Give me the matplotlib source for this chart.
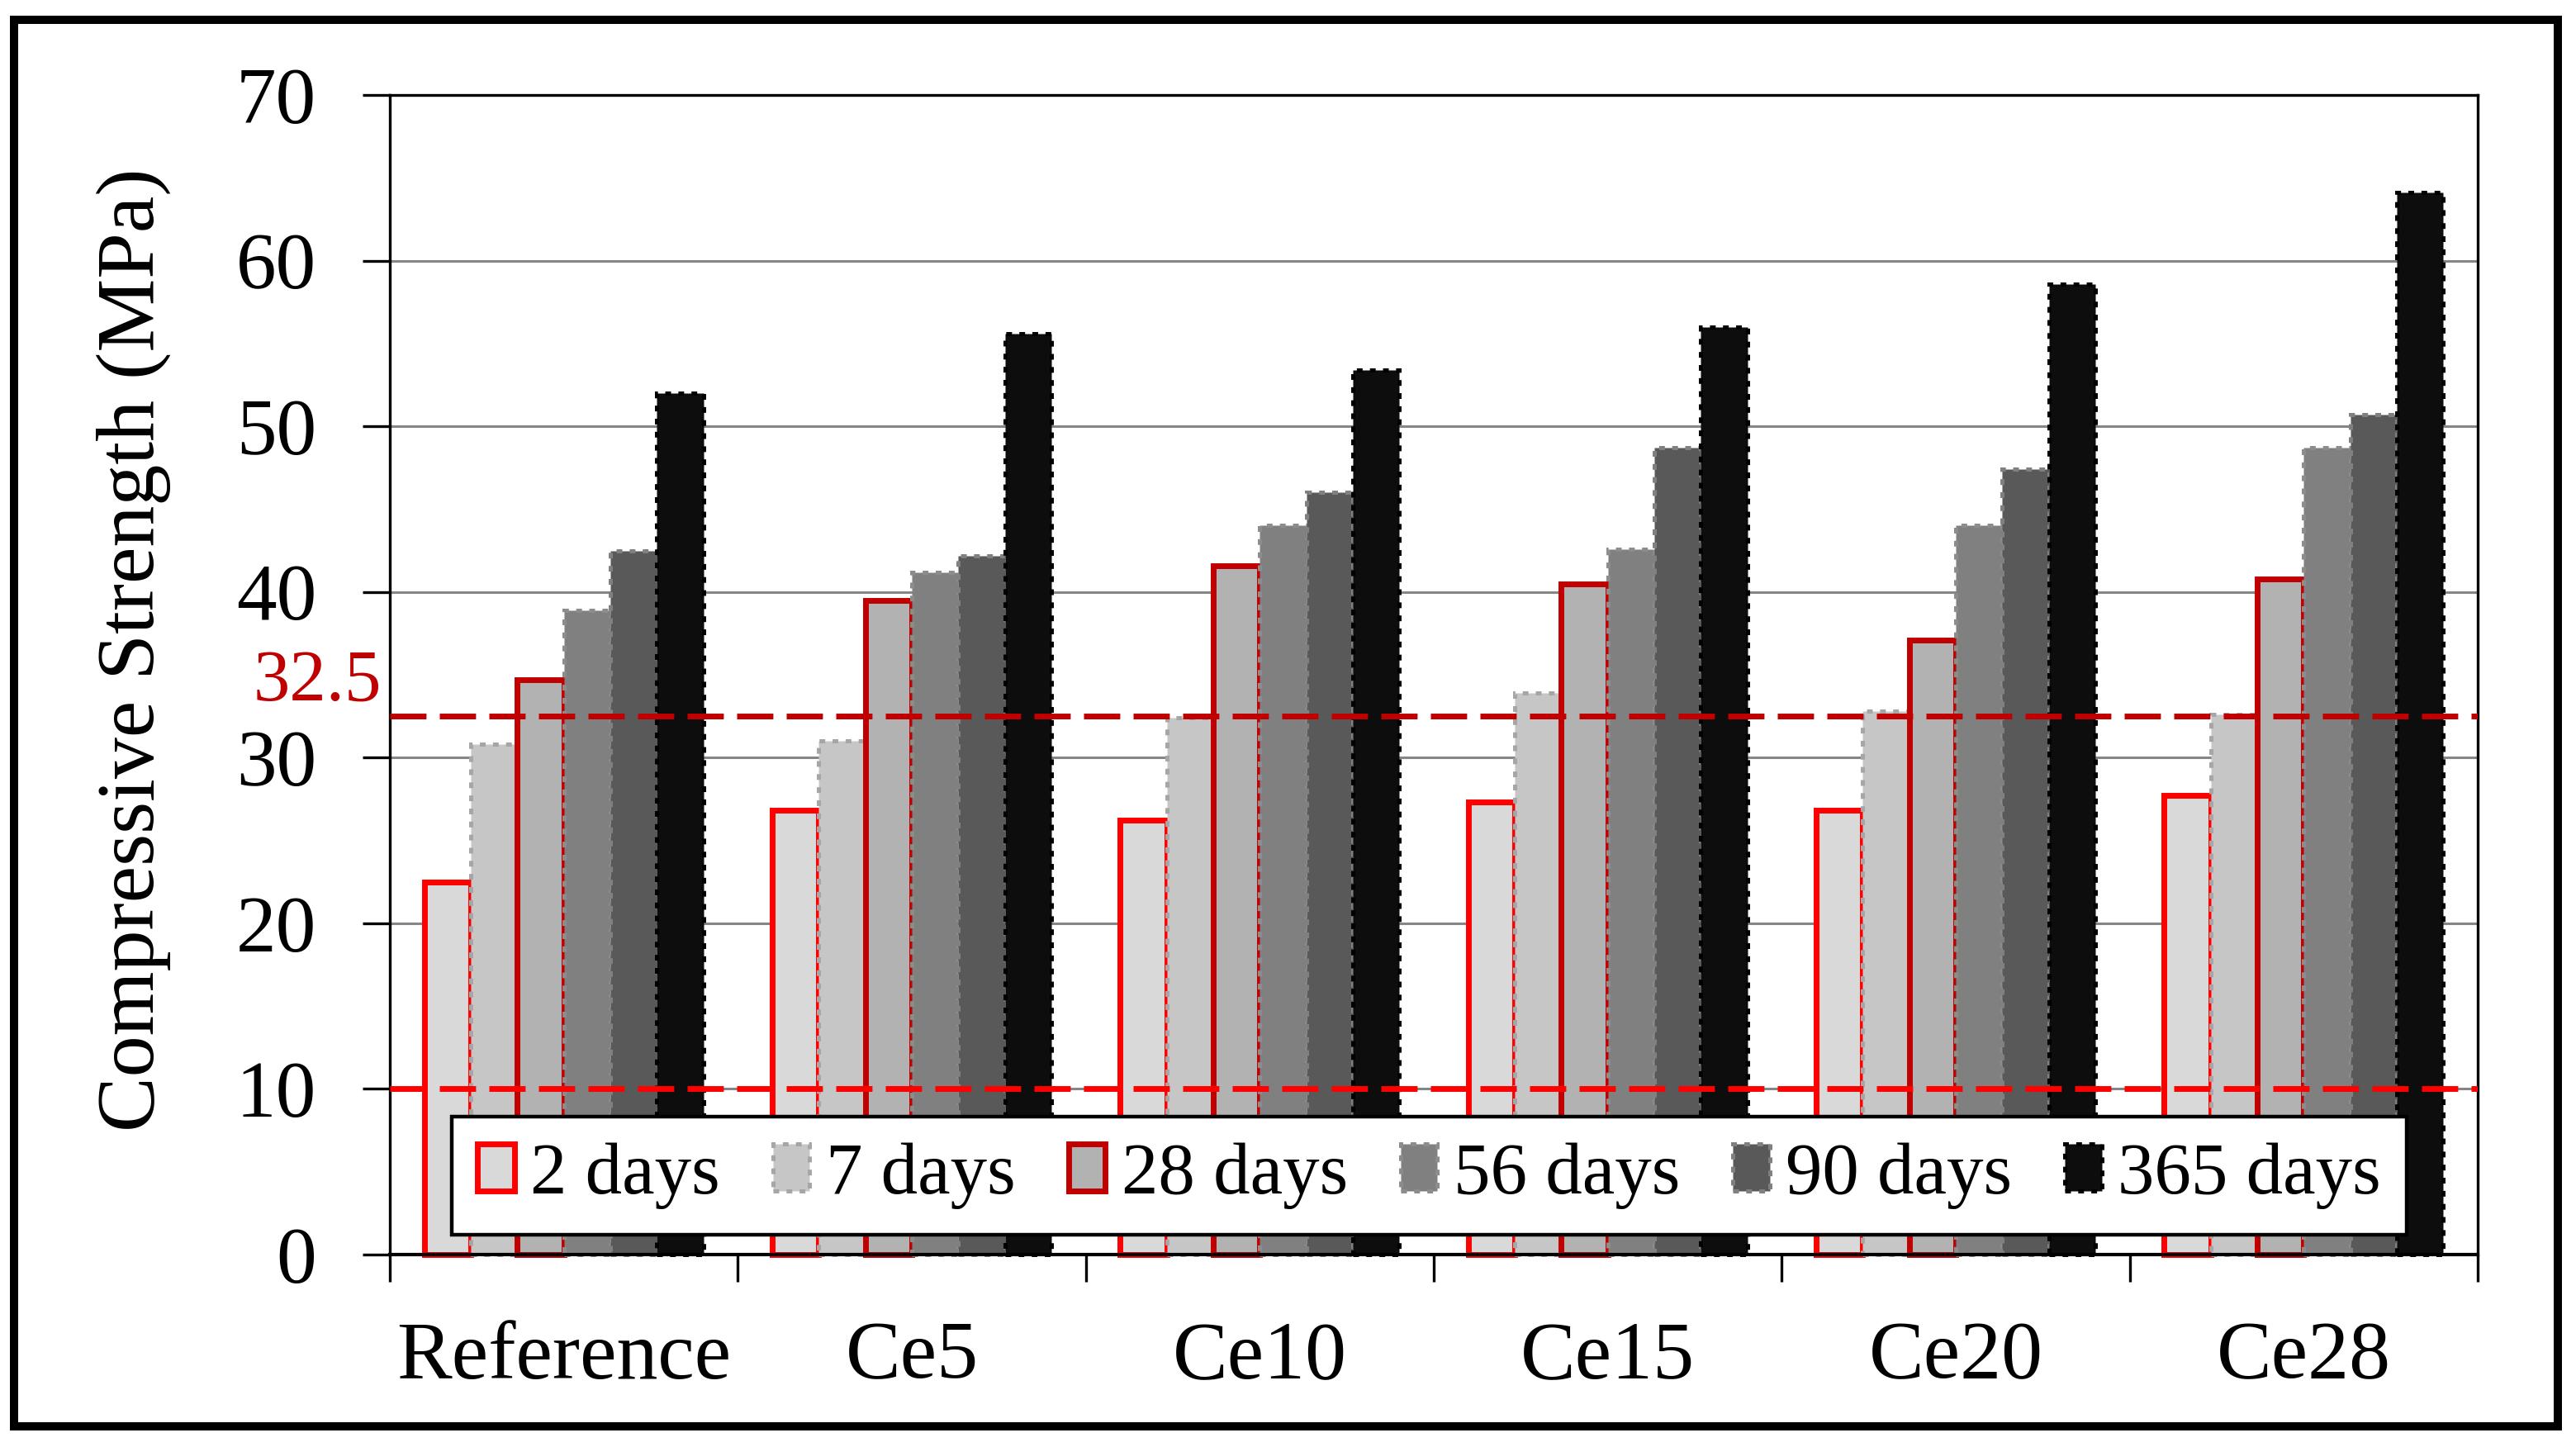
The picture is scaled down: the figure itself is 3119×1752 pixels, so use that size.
import matplotlib
matplotlib.use('Agg')
import matplotlib.pyplot as plt
from matplotlib.patches import Rectangle
from matplotlib.transforms import blended_transform_factory
import numpy as np

# ---------------- data ----------------
categories = ['Reference', 'Ce5', 'Ce10', 'Ce15', 'Ce20', 'Ce28']
series_labels = ['2 days', '7 days', '28 days', '56 days', '90 days', '365 days']
d2 = [22.5, 26.8, 26.2, 27.3, 26.8, 27.7]
d7 = [30.8, 31.0, 32.4, 33.9, 32.8, 32.6]
d28 = [34.7, 39.5, 41.6, 40.5, 37.1, 40.8]
d56 = [38.9, 41.2, 44.0, 42.6, 44.0, 48.7]
d90 = [42.5, 42.2, 46.0, 48.7, 47.4, 50.7]
d365 = [52.0, 55.6, 53.4, 56.0, 58.6, 64.1]
series_values = [d2, d7, d28, d56, d90, d365]
y_ticks = [0, 10, 20, 30, 40, 50, 60, 70]
limit_high = 32.5
limit_low = 10
limit_label = '32.5'
y_label = 'Compressive Strength (MPa)'

# ---------------- style ----------------
plt.rcParams['font.family'] = ['Liberation Serif', 'DejaVu Serif']
plt.rcParams['lines.scale_dashes'] = False

dot = (0, (2.5, 3.2))
styles = [
    dict(facecolor='#d9d9d9', edgecolor='#ff0000', linewidth=2.5, linestyle='-'),
    dict(facecolor='#c6c6c6', edgecolor='#a6a6a6', linewidth=1.8, linestyle=dot),
    dict(facecolor='#b2b2b2', edgecolor='#c00000', linewidth=2.5, linestyle='-'),
    dict(facecolor='#808080', edgecolor='#8c8c8c', linewidth=1.8, linestyle=dot),
    dict(facecolor='#595959', edgecolor='#808080', linewidth=1.8, linestyle=dot),
    dict(facecolor='#0d0d0d', edgecolor='#000000', linewidth=1.8, linestyle=dot),
]

fig = plt.figure(figsize=(15.595, 8.76), dpi=200)
ax = fig.add_axes([0.1513, 0.1330, 0.8106, 0.8014])

x = np.arange(len(categories))
n = len(series_values)
w = 0.1337
for k, (vals, lab, st) in enumerate(zip(series_values, series_labels, styles)):
    bars = ax.bar(x + (k - (n - 1) / 2) * w, vals, width=w, label=lab, zorder=2, **st)
    for b in bars:
        b.set_clip_on(False)

ax.axhline(limit_high, color='#c00000', lw=2.5, dashes=(15.8, 5.8), zorder=4)
ax.axhline(limit_low, color='#ff0000', lw=2.5, dashes=(15.8, 5.8), zorder=4)

trans = blended_transform_factory(ax.transAxes, ax.transData)
ax.text(-0.004, 33.45, limit_label, transform=trans, ha='right', va='baseline',
        color='#c00000', fontsize=32)

ax.set_xlim(-0.5, len(categories) - 0.5)
ax.set_ylim(0, 70)
ax.set_yticks(y_ticks)
ax.set_yticklabels([str(t) for t in y_ticks])
ax.tick_params(axis='y', direction='out', length=12, width=1.2, pad=20,
               labelsize=35, color='black')
ax.set_xticks(x)
ax.set_xticklabels(categories)
ax.set_xticks(np.arange(len(categories) + 1) - 0.5, minor=True)
ax.tick_params(axis='x', which='major', length=0, pad=29, labelsize=36)
ax.tick_params(axis='x', which='minor', direction='out', length=12, width=1.2)

ax.grid(axis='y', color='#868686', linewidth=1.1, zorder=0)
ax.set_axisbelow(True)
for side in ['left', 'top', 'right']:
    ax.spines[side].set_linewidth(1.2)
    ax.spines[side].set_color('black')
ax.spines['bottom'].set_linewidth(1.5)

fig.text(0.052, 0.551, y_label, rotation=90, ha='center', va='center', fontsize=36)

leg = ax.legend(loc='lower left', bbox_to_anchor=(0.0297, 0.0171), ncol=6,
                fontsize=32, frameon=True, fancybox=False, shadow=False,
                handlelength=0.5, handleheight=0.6, handletextpad=0.22,
                columnspacing=0.72, borderpad=0.35, borderaxespad=0)
leg.get_frame().set_edgecolor('black')
leg.get_frame().set_linewidth(1.6)
leg.get_frame().set_alpha(1)
leg.set_zorder(10)

# outer frame
fig.patches.append(Rectangle((0.00545, 0.01427), 0.9875, 0.9720, transform=fig.transFigure,
                             fill=False, edgecolor='black', linewidth=3.6, zorder=20))

fig.savefig('out.png', dpi=200, facecolor='white')
